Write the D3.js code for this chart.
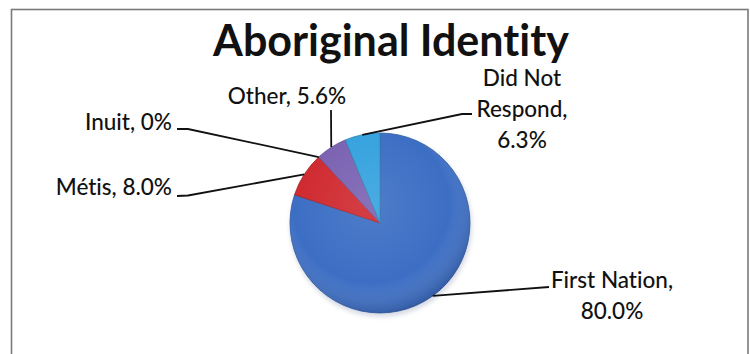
<!DOCTYPE html>
<html>
<head>
<meta charset="utf-8">
<script src="https://cdn.jsdelivr.net/npm/d3@7"></script>
<style>
  html, body { margin: 0; padding: 0; background: #fff; }
  svg { display: block; }
  text { font-variant-ligatures: none; font-feature-settings: "liga" 0, "clig" 0; }
</style>
</head>
<body>
<svg id="chart" width="750" height="354"></svg>
<script>
// Aboriginal identity of respondents (percent)
const categories = ["First Nation", "Métis", "Inuit", "Other", "Did Not Respond"];
const values = [80.0, 8.0, 0, 5.6, 6.3];
const valueLabels = ["80.0%", "8.0%", "0%", "5.6%", "6.3%"];
const colors = ["#3c6ec4", "#cf2a30", "#8a4fa0", "#7a62b2", "#35a2de"];
const title = "Aboriginal Identity";

const svg = d3.select("#chart");
const cx = 380, cy = 223, R = 90;

// chart frame
svg.append("rect")
  .attr("x", 11.5).attr("y", 9.5)
  .attr("width", 736.5).attr("height", 360)
  .attr("fill", "#fff")
  .attr("stroke", "#7a7a7a").attr("stroke-width", 1.6);

svg.append("text")
  .attr("x", 391).attr("y", 56)
  .attr("text-anchor", "middle")
  .attr("font-family", "Lato, 'Open Sans', sans-serif")
  .attr("font-weight", 700)
  .attr("font-size", 43)
  .attr("fill", "#111")
  .text(title);

const defs = svg.append("defs");
// soft bevel shading for the pie
const shade = defs.append("radialGradient")
  .attr("id", "shade").attr("cx", "45%").attr("cy", "40%").attr("r", "62%");
shade.append("stop").attr("offset", "0%").attr("stop-color", "#fff").attr("stop-opacity", 0.10);
shade.append("stop").attr("offset", "70%").attr("stop-color", "#fff").attr("stop-opacity", 0.0);
shade.append("stop").attr("offset", "100%").attr("stop-color", "#0a1a40").attr("stop-opacity", 0.28);

const glow = defs.append("filter").attr("id", "glow")
  .attr("x", "-20%").attr("y", "-20%").attr("width", "140%").attr("height", "140%");
glow.append("feGaussianBlur").attr("stdDeviation", 2.2);

const data = categories.map((c, i) => ({ category: c, value: values[i], label: valueLabels[i], color: colors[i] }));

const pie = d3.pie().sort(null).value(d => d.value).startAngle(0).endAngle(2 * Math.PI);
const arcs = pie(data);
const arc = d3.arc().innerRadius(0).outerRadius(R);
const rim = d3.arc().innerRadius(R).outerRadius(R);

const g = svg.append("g").attr("transform", `translate(${cx},${cy})`);

// faint halo below the pie
g.append("circle")
  .attr("cx", 1).attr("cy", 3).attr("r", R + 1)
  .attr("fill", "#b9bfd0").attr("opacity", 0.55)
  .attr("filter", "url(#glow)");

g.selectAll("path.slice")
  .data(arcs.filter(a => a.data.value > 0))
  .join("path")
  .attr("class", "slice")
  .attr("d", arc)
  .attr("fill", d => d.data.color)
  .attr("stroke", d => d3.color(d.data.color).darker(0.6))
  .attr("stroke-width", 0.8)
  .attr("stroke-linejoin", "round");

g.append("circle").attr("r", R).attr("fill", "url(#shade)");

// label layout: text lines, anchor, baseline of first line, elbow points of the leader
const layout = {
  "First Nation": { x: 612, y: 288, anchor: "middle", lines: d => [d.category + ",", d.label], elbow: [[549, 287]] },
  "Métis": { x: 172, y: 195, anchor: "end", lines: d => [d.category + ", " + d.label], elbow: [[177, 196], [188, 195.5]] },
  "Inuit": { x: 172, y: 130, anchor: "end", lines: d => [d.category + ", " + d.label], elbow: [[177, 129], [188, 129]] },
  "Other": { x: 287, y: 104, anchor: "middle", lines: d => [d.category + ", " + d.label], elbow: [[331, 110]] },
  "Did Not Respond": { x: 522, y: 86, anchor: "middle", lines: d => ["Did Not", "Respond,", d.label], elbow: [[472, 114], [462, 114]] }
};
const lineGap = 31;

const line = d3.line();
arcs.forEach(a => {
  const L = layout[a.data.category];
  const [px, py] = rim.centroid(a);
  const pts = L.elbow.concat([[cx + px, cy + py]]);
  svg.append("path")
    .attr("d", line(pts))
    .attr("fill", "none")
    .attr("stroke", "#111")
    .attr("stroke-width", 1.8);

  const t = svg.append("text")
    .attr("text-anchor", L.anchor)
    .attr("font-family", "Lato, 'Open Sans', sans-serif")
    .attr("font-weight", 500)
    .attr("font-size", 22.5)
    .attr("fill", "#111");
  L.lines(a.data).forEach((s, i) => {
    t.append("tspan").attr("x", L.x).attr("y", L.y + i * lineGap).text(s);
  });
});
</script>
</body>
</html>
